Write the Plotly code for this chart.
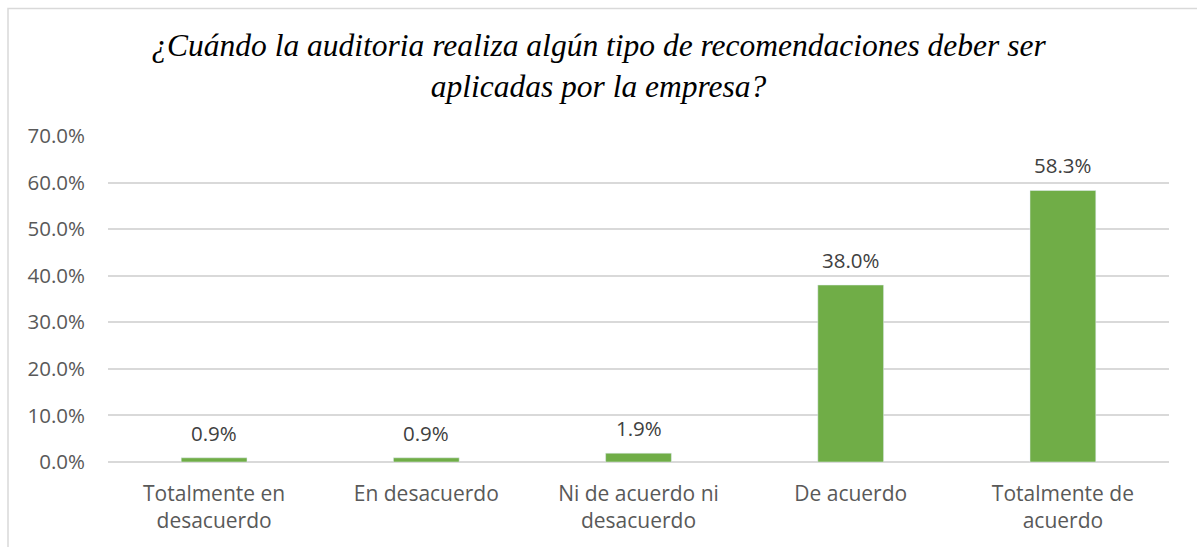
import plotly.graph_objects as go

categories = ["Totalmente en<br>desacuerdo", "En desacuerdo", "Ni de acuerdo ni<br>desacuerdo",
              "De acuerdo", "Totalmente de<br>acuerdo"]
values = [0.009, 0.009, 0.019, 0.380, 0.583]
tick_vals = [0, 0.1, 0.2, 0.3, 0.4, 0.5, 0.6, 0.7]
tick_text = ["0.0%", "10.0%", "20.0%", "30.0%", "40.0%", "50.0%", "60.0%", "70.0%"]
title_text = "¿Cuándo la auditoria realiza algún tipo de recomendaciones deber ser<br>aplicadas por la empresa?"

W, H = 1197, 547
L, R, T, B = 108, 28, 136, 85
pw, ph = W - L - R, H - T - B
FONT = "Open Sans, Noto Sans, sans-serif"

fig = go.Figure()
fig.add_trace(go.Bar(
    x=categories, y=values,
    marker=dict(color="#70AD47"),
    width=0.31,
    hoverinfo="x+y",
))

for c, v in zip(categories, values):
    fig.add_annotation(x=c, y=v, text=f"{v*100:.1f}%", showarrow=False,
                       xanchor="center", yanchor="bottom", yshift=9,
                       font=dict(family=FONT, size=20.5, color="#404040"))

fig.update_layout(
    width=W, height=H,
    margin=dict(l=L, r=R, t=T, b=B, autoexpand=False),
    paper_bgcolor="white", plot_bgcolor="white",
    showlegend=False,
    title=dict(text=title_text, x=0.5, xanchor="center", y=0.897, yanchor="middle",
               font=dict(family="Liberation Serif, Times New Roman, serif", size=31.5, color="#000000",
                         style="italic")),
    xaxis=dict(showgrid=False, showline=False, ticks="", automargin=False, ticklabelstandoff=17,
               tickfont=dict(family=FONT, size=21, color="#595959")),
    yaxis=dict(range=[0, 0.7], tickvals=tick_vals, ticktext=tick_text, automargin=False,
               showgrid=True, gridcolor="#d9d9d9", gridwidth=1.5,
               zeroline=True, zerolinecolor="#d9d9d9", zerolinewidth=1.5,
               showline=False, ticks="", ticklabelstandoff=22,
               tickfont=dict(family=FONT, size=20.5, color="#595959")),
    bargap=0.69,
)

# chart-area border (light gray), left and top edges visible in the reference
x0 = (8 - L) / pw
y1 = (H - B - 8.5) / ph
fig.add_shape(type="rect", xref="paper", yref="paper",
              x0=x0, x1=1.2, y0=-0.5, y1=y1,
              line=dict(color="#d9d9d9", width=1.5), fillcolor="rgba(0,0,0,0)", layer="below")

fig.write_html("out.html", config={"displayModeBar": False},
               post_script="document.body.style.margin='0px';document.body.style.overflow='hidden';")
